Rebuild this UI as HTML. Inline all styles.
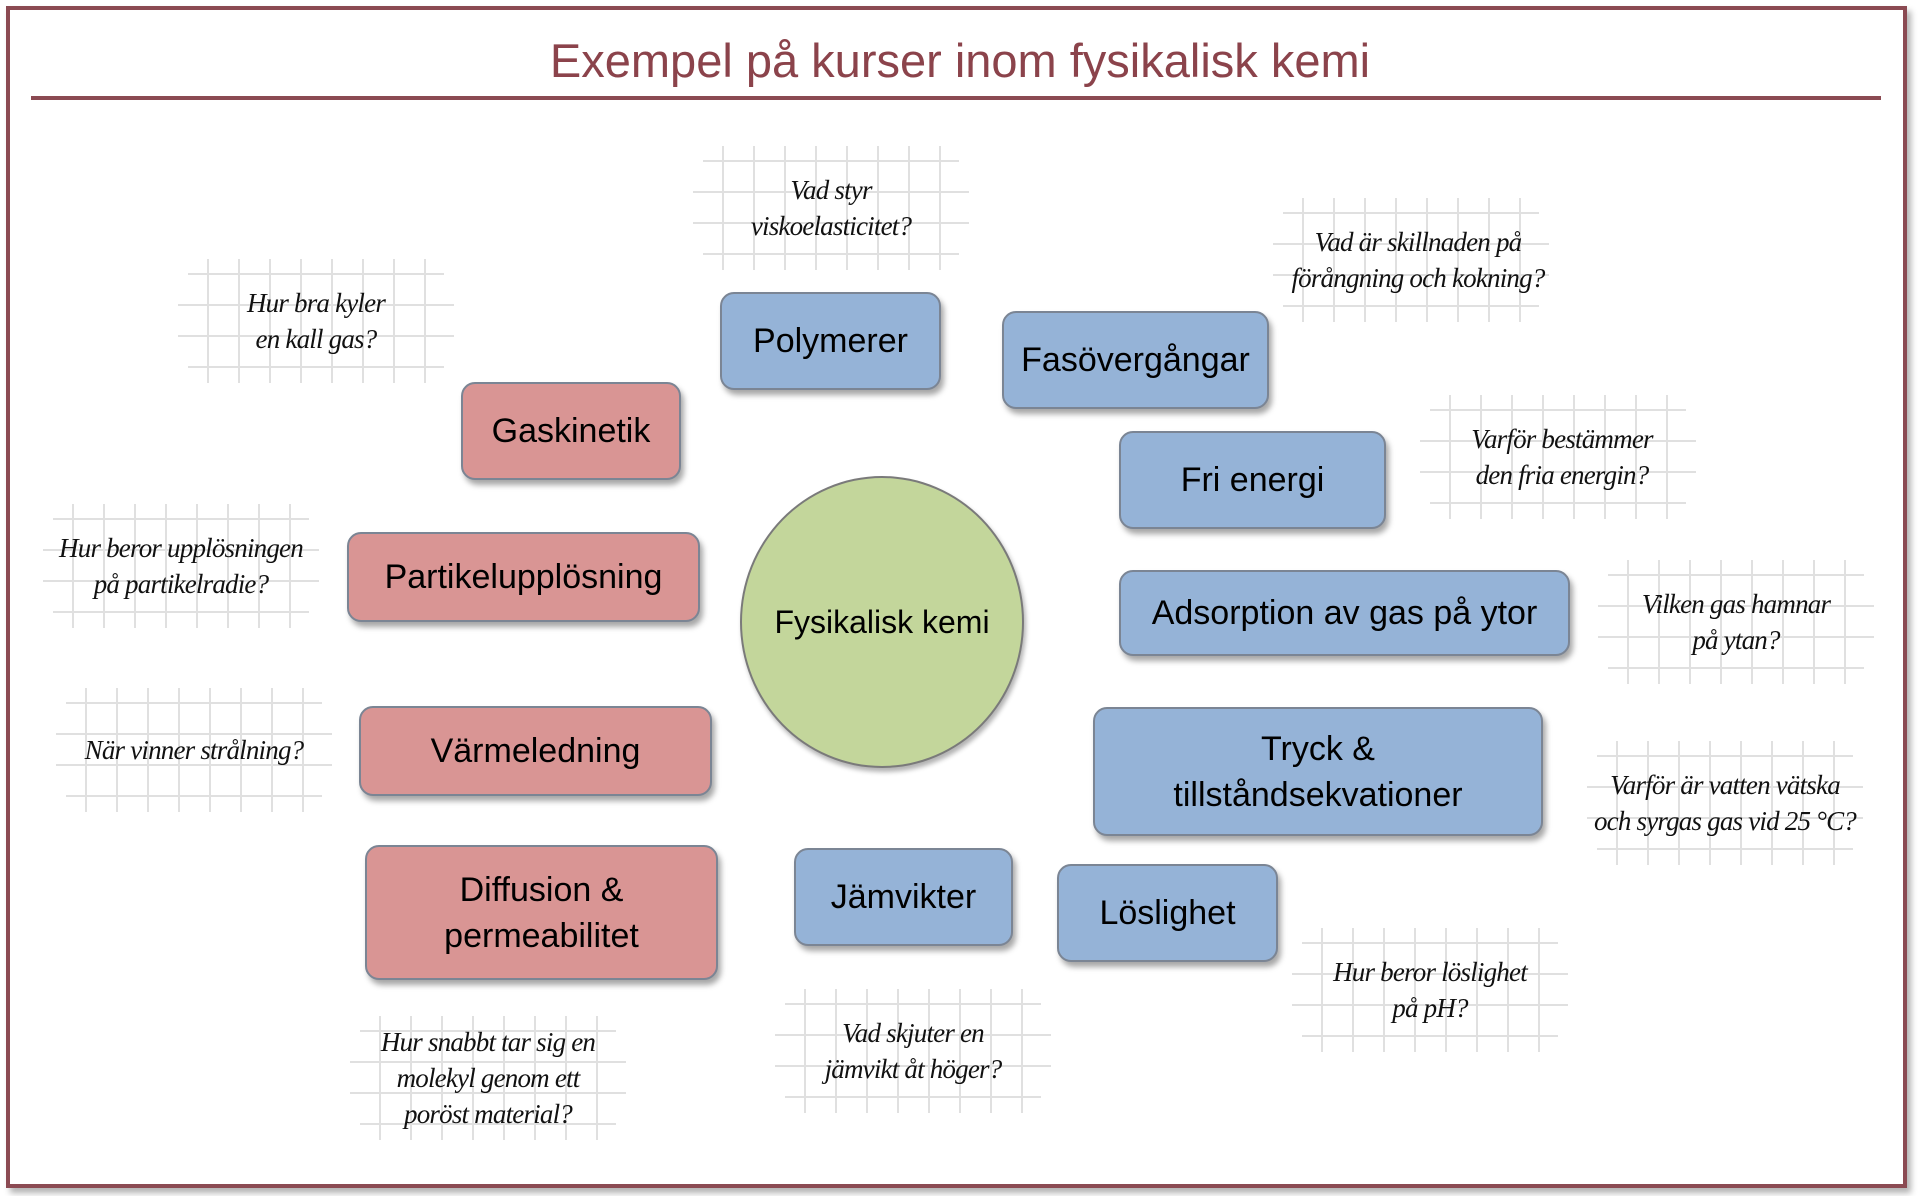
<!DOCTYPE html>
<html><head><meta charset="utf-8">
<style>
html,body{margin:0;padding:0;background:#fff;}
body{width:1920px;height:1196px;position:relative;overflow:hidden;font-family:"Liberation Sans",sans-serif;}
.frame{position:absolute;left:6px;top:6px;width:1893px;height:1174px;border:4px solid #8b4a52;box-shadow:4px 5px 6px rgba(0,0,0,.3);}
.title{position:absolute;left:0;width:1920px;top:33px;text-align:center;font-size:47px;color:#8b434b;}
.rule{position:absolute;left:31px;top:96px;width:1850px;height:4px;background:#8b4a52;}
.box{position:absolute;box-sizing:border-box;border:2px solid #7b8594;border-radius:14px;box-shadow:3px 5px 6px rgba(0,0,0,.35);display:flex;align-items:center;justify-content:center;text-align:center;font-size:34px;line-height:46px;color:#000;}
.b{background:#95b3d7;}
.r{background:#d99594;}
.circ{position:absolute;left:740px;top:476px;width:284px;height:292px;box-sizing:border-box;border-radius:50%;background:#c3d69b;border:2px solid #7a7a7a;box-shadow:2px 4px 5px rgba(0,0,0,.3);display:flex;align-items:center;justify-content:center;font-size:32px;}
.q{position:absolute;width:400px;margin-left:-200px;text-align:center;font-family:"Liberation Serif",serif;font-style:italic;font-size:27px;line-height:36px;letter-spacing:-0.8px;color:#111;}
svg{position:absolute;left:0;top:0;}
</style></head><body>
<svg width="1920" height="1196">
<defs>
<g id="g" stroke="#e0e0e0" stroke-width="2">
<line x1="-108" y1="-62" x2="-108" y2="62"/><line x1="-77" y1="-62" x2="-77" y2="62"/>
<line x1="-46" y1="-62" x2="-46" y2="62"/><line x1="-15" y1="-62" x2="-15" y2="62"/>
<line x1="16" y1="-62" x2="16" y2="62"/><line x1="47" y1="-62" x2="47" y2="62"/>
<line x1="78" y1="-62" x2="78" y2="62"/><line x1="109" y1="-62" x2="109" y2="62"/>
<line x1="-128" y1="-47" x2="128" y2="-47"/><line x1="-138" y1="-16" x2="138" y2="-16"/>
<line x1="-138" y1="15" x2="138" y2="15"/><line x1="-128" y1="46" x2="128" y2="46"/>
</g>
</defs>
<use href="#g" x="831" y="208"/>
<use href="#g" x="316" y="321"/>
<use href="#g" x="1411" y="260"/>
<use href="#g" x="1558" y="457"/>
<use href="#g" x="1736" y="622"/>
<use href="#g" x="1725" y="803"/>
<use href="#g" x="1430" y="990"/>
<use href="#g" x="913" y="1051"/>
<use href="#g" x="488" y="1078"/>
<use href="#g" x="194" y="750"/>
<use href="#g" x="181" y="566"/>
</svg>
<div class="frame"></div>
<div class="title">Exempel på kurser inom fysikalisk kemi</div>
<div class="rule"></div>

<div class="circ">Fysikalisk kemi</div>

<div class="box b" style="left:720px;top:292px;width:221px;height:98px;">Polymerer</div>
<div class="box b" style="left:1002px;top:311px;width:267px;height:98px;">Fasövergångar</div>
<div class="box b" style="left:1119px;top:431px;width:267px;height:98px;">Fri energi</div>
<div class="box b" style="left:1119px;top:570px;width:451px;height:86px;">Adsorption av gas på ytor</div>
<div class="box b" style="left:1093px;top:707px;width:450px;height:129px;">Tryck &amp;<br>tillståndsekvationer</div>
<div class="box b" style="left:1057px;top:864px;width:221px;height:98px;">Löslighet</div>
<div class="box b" style="left:794px;top:848px;width:219px;height:98px;">Jämvikter</div>
<div class="box r" style="left:461px;top:382px;width:220px;height:98px;">Gaskinetik</div>
<div class="box r" style="left:347px;top:532px;width:353px;height:90px;">Partikelupplösning</div>
<div class="box r" style="left:359px;top:706px;width:353px;height:90px;">Värmeledning</div>
<div class="box r" style="left:365px;top:845px;width:353px;height:135px;">Diffusion &amp;<br>permeabilitet</div>

<div class="q" style="left:831px;top:172px;">Vad styr<br>viskoelasticitet?</div>
<div class="q" style="left:316px;top:285px;">Hur bra kyler<br>en kall gas?</div>
<div class="q" style="left:1418px;top:224px;">Vad är skillnaden på<br>förångning och kokning?</div>
<div class="q" style="left:1562px;top:421px;">Varför bestämmer<br>den fria energin?</div>
<div class="q" style="left:1736px;top:586px;">Vilken gas hamnar<br>på ytan?</div>
<div class="q" style="left:1725px;top:767px;">Varför är vatten vätska<br>och syrgas gas vid 25 °C?</div>
<div class="q" style="left:1430px;top:954px;">Hur beror löslighet<br>på pH?</div>
<div class="q" style="left:913px;top:1015px;">Vad skjuter en<br>jämvikt åt höger?</div>
<div class="q" style="left:488px;top:1024px;">Hur snabbt tar sig en<br>molekyl genom ett<br>poröst material?</div>
<div class="q" style="left:194px;top:732px;">När vinner strålning?</div>
<div class="q" style="left:181px;top:530px;">Hur beror upplösningen<br>på partikelradie?</div>
</body></html>
